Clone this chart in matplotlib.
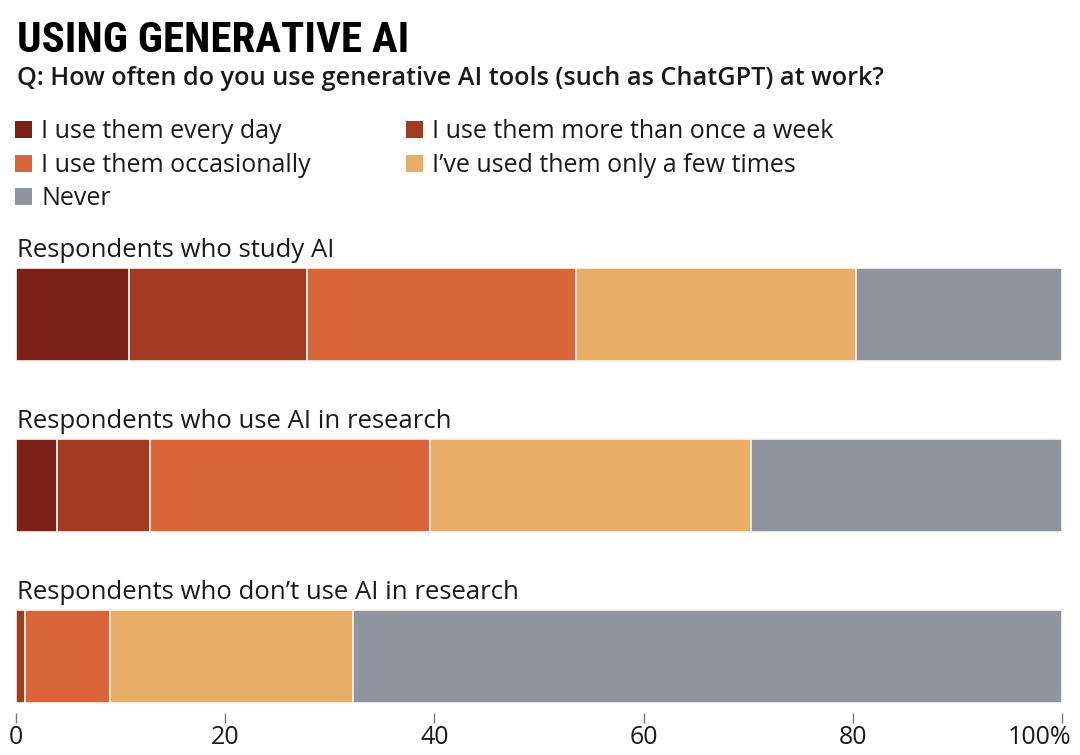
import numpy as np
import matplotlib.pyplot as plt
from matplotlib.patches import Rectangle
from matplotlib.transforms import ScaledTranslation

groups = ['Respondents who study AI',
          'Respondents who use AI in research',
          'Respondents who don\u2019t use AI in research']
categories = ['I use them every day', 'I use them more than once a week',
              'I use them occasionally', 'I\u2019ve used them only a few times', 'Never']

# share of respondents (%), one list per answer, in group order
every_day = [10.8, 3.9, 0.0]
weekly = [17.0, 8.9, 0.9]
occasionally = [25.7, 26.8, 8.1]
few_times = [26.8, 30.7, 23.2]
never = [19.7, 29.7, 67.8]

tick_values = [0, 20, 40, 60, 80, 100]
tick_labels = ['0', '20', '40', '60', '80', '100%']

colors = ['#7B2118', '#A33A22', '#D96538', '#E8AD66', '#8E959E']
txt = '#1a1a1a'
body = ['Open Sans', 'DejaVu Sans']
fs = 18

W, H = 1080, 755
fig = plt.figure(figsize=(W / 100, H / 100), dpi=100)
fig.patch.set_facecolor('white')

# axes spans the three bars
ax = fig.add_axes([16 / W, 1 - 703 / H, (1062 - 16) / W, (703 - 268) / H])
h = 93 / 171
y = np.arange(len(groups))

series = [every_day, weekly, occasionally, few_times, never]
left = np.zeros(len(groups))
for vals, c, name in zip(series, colors, categories):
    ax.barh(y, vals, left=left, height=h, color=c, edgecolor='#fbf3ea',
            linewidth=1.2, label=name)
    left += np.array(vals)

ax.set_xlim(0, 100)
ax.set_ylim(len(groups) - 1 + h / 2, -h / 2)

for i, g in enumerate(groups):
    ax.annotate(g, xy=(0, i - h / 2), xytext=(1, 8), textcoords='offset points',
                ha='left', va='baseline', fontsize=fs + 0.5, color=txt, family=body)

for s in ax.spines.values():
    s.set_visible(False)
ax.spines['bottom'].set_position(('outward', 7))
ax.set_yticks([])
ax.set_xticks(tick_values)
ax.set_xticklabels(tick_labels, family=body, fontsize=fs, color=txt)
ax.tick_params(axis='x', length=7, width=1, color='#777777', pad=2)
last = ax.get_xticklabels()[-1]
last.set_ha('right')
last.set_transform(last.get_transform() + ScaledTranslation(0.09, 0, fig.dpi_scale_trans))

# title and question
fig.text(17 / W, 1 - 52 / H, 'USING GENERATIVE AI', ha='left', va='baseline',
         fontsize=31, fontweight='bold', fontstretch='condensed', color='black',
         family=['Roboto Condensed', 'DejaVu Sans'])
fig.text(17 / W, 1 - 85 / H,
         'Q: How often do you use generative AI tools (such as ChatGPT) at work?',
         ha='left', va='baseline', fontsize=fs + 0.2, fontweight='semibold',
         color=txt, family=body)

# legend, laid out row by row like the original
leg_x = [15, 406]
leg_base = [138, 172, 205]
for k, (name, c) in enumerate(zip(categories, colors)):
    row, col = divmod(k, 2)
    x0, yb = leg_x[col], leg_base[row]
    fig.patches.append(Rectangle((x0 / W, 1 - yb / H), 17 / W, 17 / H,
                                 transform=fig.transFigure, facecolor=c,
                                 edgecolor='none'))
    fig.text((x0 + 26) / W, 1 - yb / H, name, ha='left', va='baseline',
             fontsize=fs, color=txt, family=body)

fig.savefig('out.png', dpi=100)
